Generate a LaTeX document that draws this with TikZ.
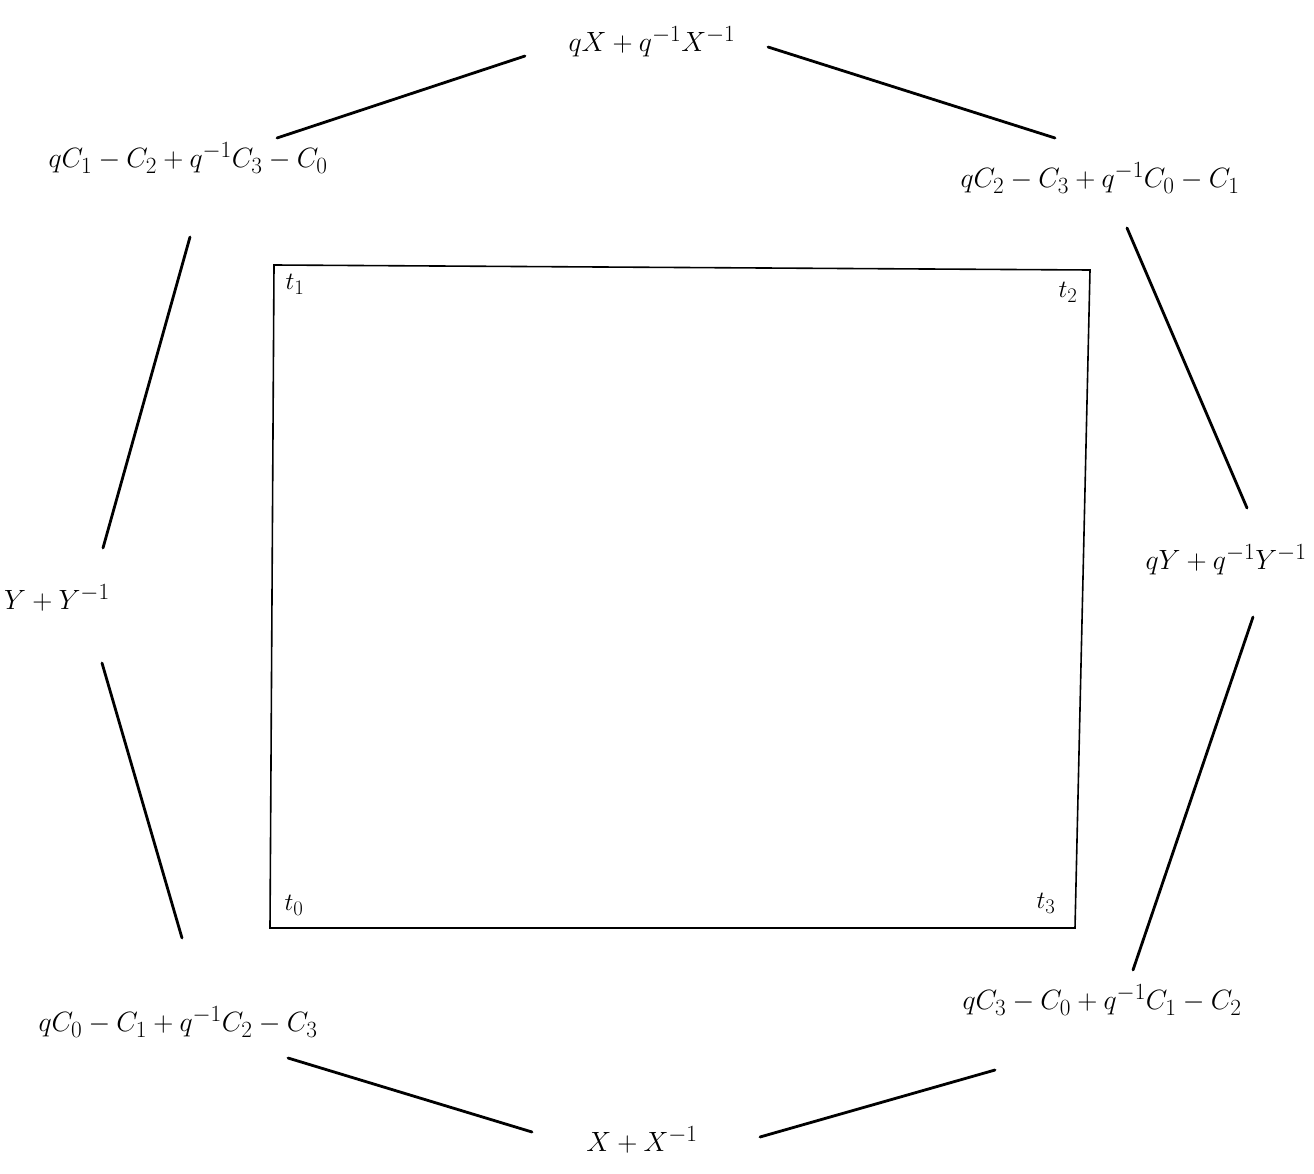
\documentclass[tikz,border=0pt]{standalone}
\begin{document}
\begin{tikzpicture}[x=1pt,y=-1pt,
  lbl/.style={font=\Huge, inner sep=0pt, scale=1.12},
  clbl/.style={font=\Huge, inner sep=0pt, scale=1.0},
  conn/.style={line width=2.8pt, line cap=round},
  frame/.style={line width=1.6pt}]
\useasboundingbox (0,0) rectangle (1314,1174);
% labels
\node[lbl] (top) at (652,42) {$qX+q^{-1}X^{-1}$};
\node[lbl] (ul) at (188,158) {$qC_1-C_2+q^{-1}C_3-C_0$};
\node[lbl] (ur) at (1100,178) {$qC_2-C_3+q^{-1}C_0-C_1$};
\node[lbl] (r) at (1226,560) {$qY+q^{-1}Y^{-1}$};
\node[lbl] (l) at (57,598) {$Y+Y^{-1}$};
\node[lbl] (ll) at (178,1022) {$qC_0-C_1+q^{-1}C_2-C_3$};
\node[lbl] (lr) at (1102,1000) {$qC_3-C_0+q^{-1}C_1-C_2$};
\node[lbl] (bot) at (642,1140) {$X+X^{-1}$};
% connector end points
\coordinate (a1) at (525,56);  \coordinate (a2) at (277,138);
\coordinate (b1) at (768,47);  \coordinate (b2) at (1055,138);
\coordinate (c1) at (190,237); \coordinate (c2) at (103,548);
\coordinate (d1) at (102,663); \coordinate (d2) at (182,938);
\coordinate (e1) at (1127,228); \coordinate (e2) at (1247,508);
\coordinate (f1) at (1253,617); \coordinate (f2) at (1133,970);
\coordinate (g1) at (288,1058); \coordinate (g2) at (532,1132);
\coordinate (h1) at (995,1070); \coordinate (h2) at (760,1137);
\draw[conn] (a1) -- (a2);
\draw[conn] (b1) -- (b2);
\draw[conn] (c1) -- (c2);
\draw[conn] (d1) -- (d2);
\draw[conn] (e1) -- (e2);
\draw[conn] (f1) -- (f2);
\draw[conn] (g1) -- (g2);
\draw[conn] (h1) -- (h2);
% square
\coordinate (s1) at (274,265);
\coordinate (s2) at (1090,270);
\coordinate (s3) at (1075,928);
\coordinate (s0) at (270,928);
\draw[frame] (s1) -- (s2) -- (s3) -- (s0) -- cycle;
\node[clbl] (t1) at (295,284) {$t_1$};
\node[clbl] (t2) at (1068,292) {$t_2$};
\node[clbl] (t0) at (294,905) {$t_0$};
\node[clbl] (t3) at (1046,903) {$t_3$};
\end{tikzpicture}
\end{document}
